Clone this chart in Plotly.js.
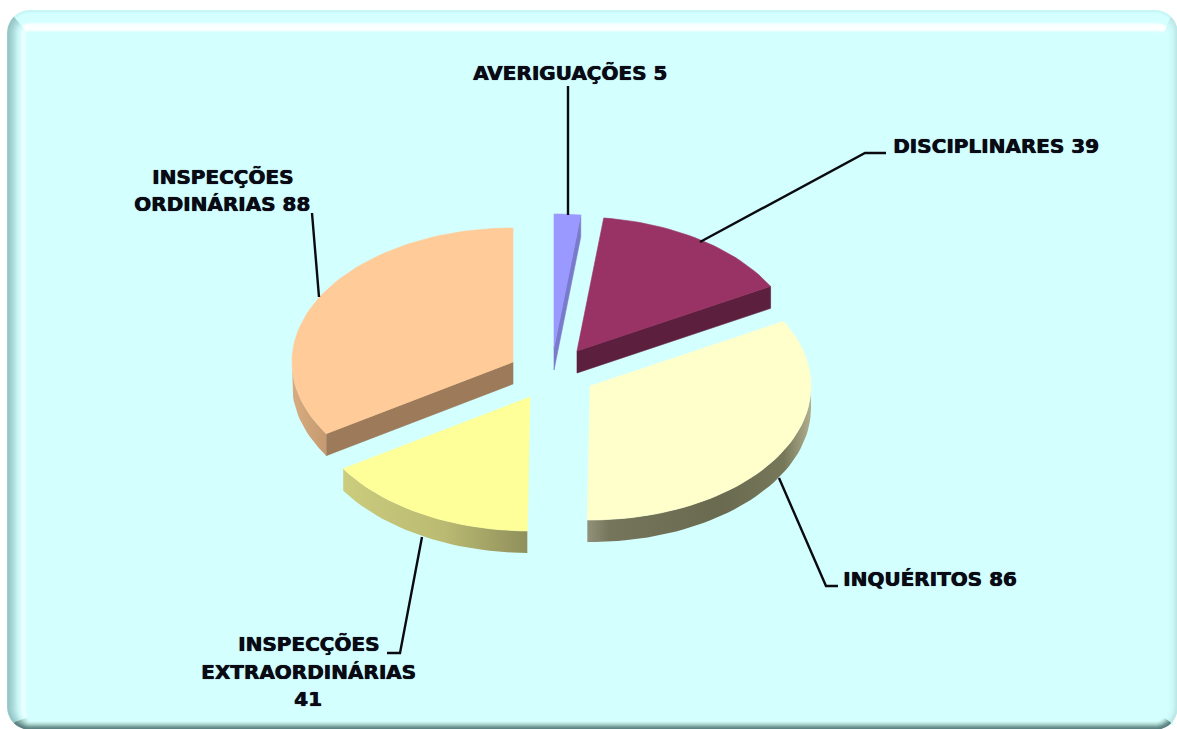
<!DOCTYPE html>
<html><head><meta charset="utf-8">
<script src="https://cdn.plot.ly/plotly-3.0.1.min.js"></script>
<style>html,body{margin:0;padding:0;background:#fff;overflow:hidden}</style>
</head><body><div id="chart" style="width:1177px;height:729px"></div>
<script>
// ---- data ----
const categories = ["AVERIGUAÇÕES", "DISCIPLINARES", "INQUÉRITOS", "INSPECÇÕES EXTRAORDINÁRIAS", "INSPECÇÕES ORDINÁRIAS"];
const values = [5, 39, 86, 41, 88];
const labelLines = [["AVERIGUAÇÕES 5"], ["DISCIPLINARES 39"], ["INQUÉRITOS 86"], ["INSPECÇÕES", "EXTRAORDINÁRIAS", "41"], ["INSPECÇÕES", "ORDINÁRIAS 88"]];
// ---- styles / layout ----
const labelX = [570, 996, 930, 308, 222];
const labelY = [[73], [146], [579], [644, 672, 699], [177, 204]];
const apexX = [554, 577, 590, 530, 513];
const apexY = [348, 351, 386, 397, 362];
const topColors = ["#9999FF", "#993366", "#FFFFCC", "#FFFF99", "#FFCC99"];
const wallColors = ["#7A7ACC", "#5C1F3D", "#77775C", "#B4B470", "#9C7A5A"];
const outerScales = [
  [[0, "#7A7ACC"], [1, "#7A7ACC"]],
  [[0, "#5C1F3D"], [1, "#5C1F3D"]],
  [[0, "#92927A"], [0.1, "#75755C"], [0.6, "#6A6A50"], [0.88, "#77775A"], [1, "#B0B090"]],
  [[0, "#CCCC7E"], [0.55, "#BABA72"], [1, "#8F8F5C"]],
  [[0, "#D8AC80"], [1, "#C69A70"]]
];
const leaders = [
  {x: [568, 568], y: [86, 215]},
  {x: [700, 865, 886], y: [242, 153, 153]},
  {x: [779, 826, 838], y: [478, 586, 586]},
  {x: [422, 400, 387], y: [537, 653, 653]},
  {x: [312, 319], y: [213, 297]}
];
const rx = 221, ry = 134, depth = 22;
const textFont = {family: "DejaVu Sans, Verdana, sans-serif", size: 20, color: "#0A0A14", weight: 700, shadow: "0.5px 0 0 #0A0A14, 0 0.4px 1px #444"};

const total = values.reduce((a, b) => a + b, 0);
const traces = [];
function arc(i, a, b, dy) {
  const xs = [], ys = [], n = Math.max(2, Math.ceil(Math.abs(b - a) / 2));
  for (let k = 0; k <= n; k++) {
    const t = (a + (b - a) * k / n) * Math.PI / 180;
    xs.push(apexX[i] + rx * Math.sin(t));
    ys.push(apexY[i] - ry * Math.cos(t) + dy);
  }
  return [xs, ys];
}
function poly(xs, ys, color, gradient, name) {
  const t = {type: "scatter", mode: "lines", x: xs.concat(xs[0]), y: ys.concat(ys[0]), fill: "toself",
    line: {width: 0.6, color: color}, hoverinfo: "text", text: name, showlegend: false};
  if (gradient) { t.fillgradient = {type: "horizontal", colorscale: gradient}; t.line.width = 0; }
  else t.fillcolor = color;
  traces.push(t);
}
let cum = 0;
values.forEach((v, i) => {
  const a0 = cum / total * 360, a1 = (cum + v) / total * 360;
  cum += v;
  const name = categories[i] + " " + v;
  const edge = (a) => {
    const [ex, ey] = arc(i, a, a, 0);
    poly([apexX[i], ex[0], ex[0], apexX[i]], [apexY[i], ey[0], ey[0] + depth, apexY[i] + depth], wallColors[i], null, name);
  };
  if (a0 > 185) edge(a0);
  if (a1 < 175) edge(a1);
  const lo = Math.max(a0, 90), hi = Math.min(a1, 270);
  if (lo < hi) {
    const [tx, ty] = arc(i, lo, hi, 0), [bx, by] = arc(i, hi, lo, depth);
    poly(tx.concat(bx), ty.concat(by), wallColors[i], outerScales[i], name);
  }
  const [fx, fy] = arc(i, a0, a1, 0);
  poly([apexX[i]].concat(fx), [apexY[i]].concat(fy), topColors[i], null, name);
});
leaders.forEach(l => traces.push({type: "scatter", mode: "lines", x: l.x, y: l.y,
  line: {color: "#0A0A10", width: 2.4}, hoverinfo: "skip", showlegend: false}));

const annotations = [];
labelLines.forEach((lines, i) => lines.forEach((s, j) => annotations.push({
  text: s, x: labelX[i], y: labelY[i][j], xref: "x", yref: "y", showarrow: false,
  xanchor: "center", yanchor: "middle", font: textFont
})));

// ---- bevelled panel ----
const L = 8, T = 11, R = 1177, B = 729, CR = 22;
const sideDepth = {l: 18, t: 21, r: 9, b: 7};
const sideStops = {
  l: [[0, [150, 198, 198]], [0.25, [172, 218, 218]], [0.5, [198, 244, 244]], [0.75, [228, 255, 255]], [0.9, [238, 255, 255]], [1, [212, 255, 255]]],
  t: [[0, [200, 246, 246]], [0.1, [212, 255, 255]], [0.5, [214, 255, 255]], [0.62, [250, 255, 255]], [0.85, [255, 255, 255]], [1, [214, 255, 255]]],
  r: [[0, [190, 232, 232]], [0.4, [204, 248, 248]], [1, [212, 255, 255]]],
  b: [[0, [92, 130, 130]], [0.3, [130, 170, 166]], [0.6, [176, 216, 210]], [1, [212, 255, 255]]]
};
function stopColor(st, f) {
  for (let k = 1; k < st.length; k++) if (f <= st[k][0]) {
    const q = (f - st[k - 1][0]) / (st[k][0] - st[k - 1][0]);
    const c = st[k - 1][1].map((u, m) => Math.round(u + (st[k][1][m] - u) * q));
    return "rgb(" + c.join(",") + ")";
  }
  return "rgb(" + st[st.length - 1][1].join(",") + ")";
}
function sidePath(side, f) {
  const xl = L + sideDepth.l * f, xr = R - sideDepth.r * f, yt = T + sideDepth.t * f, yb = B - sideDepth.b * f;
  const rad = (d) => Math.max(CR - d * f, 3);
  const corner = (cx, cy, rX, rY, a, b) => {
    const p = [];
    for (let k = 0; k <= 6; k++) { const t = (a + (b - a) * k / 6) * Math.PI / 180; p.push([cx + rX * Math.cos(t), cy + rY * Math.sin(t)]); }
    return p;
  };
  const rl = rad(sideDepth.l), rr = rad(sideDepth.r), rt = rad(sideDepth.t), rb = rad(sideDepth.b);
  let pts;
  if (side === "l") pts = corner(xl + rl, yt + rt, rl, rt, 225, 180).concat(corner(xl + rl, yb - rb, rl, rb, 180, 135));
  if (side === "r") pts = corner(xr - rr, yt + rt, rr, rt, 315, 360).concat(corner(xr - rr, yb - rb, rr, rb, 0, 45));
  if (side === "t") pts = corner(xl + rl, yt + rt, rl, rt, 225, 270).concat(corner(xr - rr, yt + rt, rr, rt, 270, 315));
  if (side === "b") pts = corner(xl + rl, yb - rb, rl, rb, 135, 90).concat(corner(xr - rr, yb - rb, rr, rb, 90, 45));
  return "M" + pts.map(p => p[0].toFixed(1) + "," + p[1].toFixed(1)).join("L");
}
const shapes = [{type: "rect", xref: "x", yref: "y", layer: "below", x0: L + 10, x1: R - 4, y0: T + 10, y1: B - 4, line: {width: 0}, fillcolor: "#D4FFFF"}];
const N = 24;
for (let n = N; n >= 0; n--) {
  const f = n / N;
  ["t", "l", "r", "b"].forEach(s => shapes.push({
    type: "path", xref: "x", yref: "y", layer: "below", path: sidePath(s, f),
    line: {color: stopColor(sideStops[s], f), width: Math.max(1.6, sideDepth[s] / N + 1)}, fillcolor: "rgba(0,0,0,0)"
  }));
}

const layout = {
  width: 1177, height: 729, margin: {l: 0, r: 0, t: 0, b: 0},
  paper_bgcolor: "#FFFFFF", plot_bgcolor: "rgba(0,0,0,0)", showlegend: false,
  xaxis: {range: [0, 1177], visible: false, fixedrange: true},
  yaxis: {range: [729, 0], visible: false, fixedrange: true},
  shapes: shapes, annotations: annotations
};
Plotly.newPlot("chart", traces, layout, {displayModeBar: false, staticPlot: true});
</script></body></html>
